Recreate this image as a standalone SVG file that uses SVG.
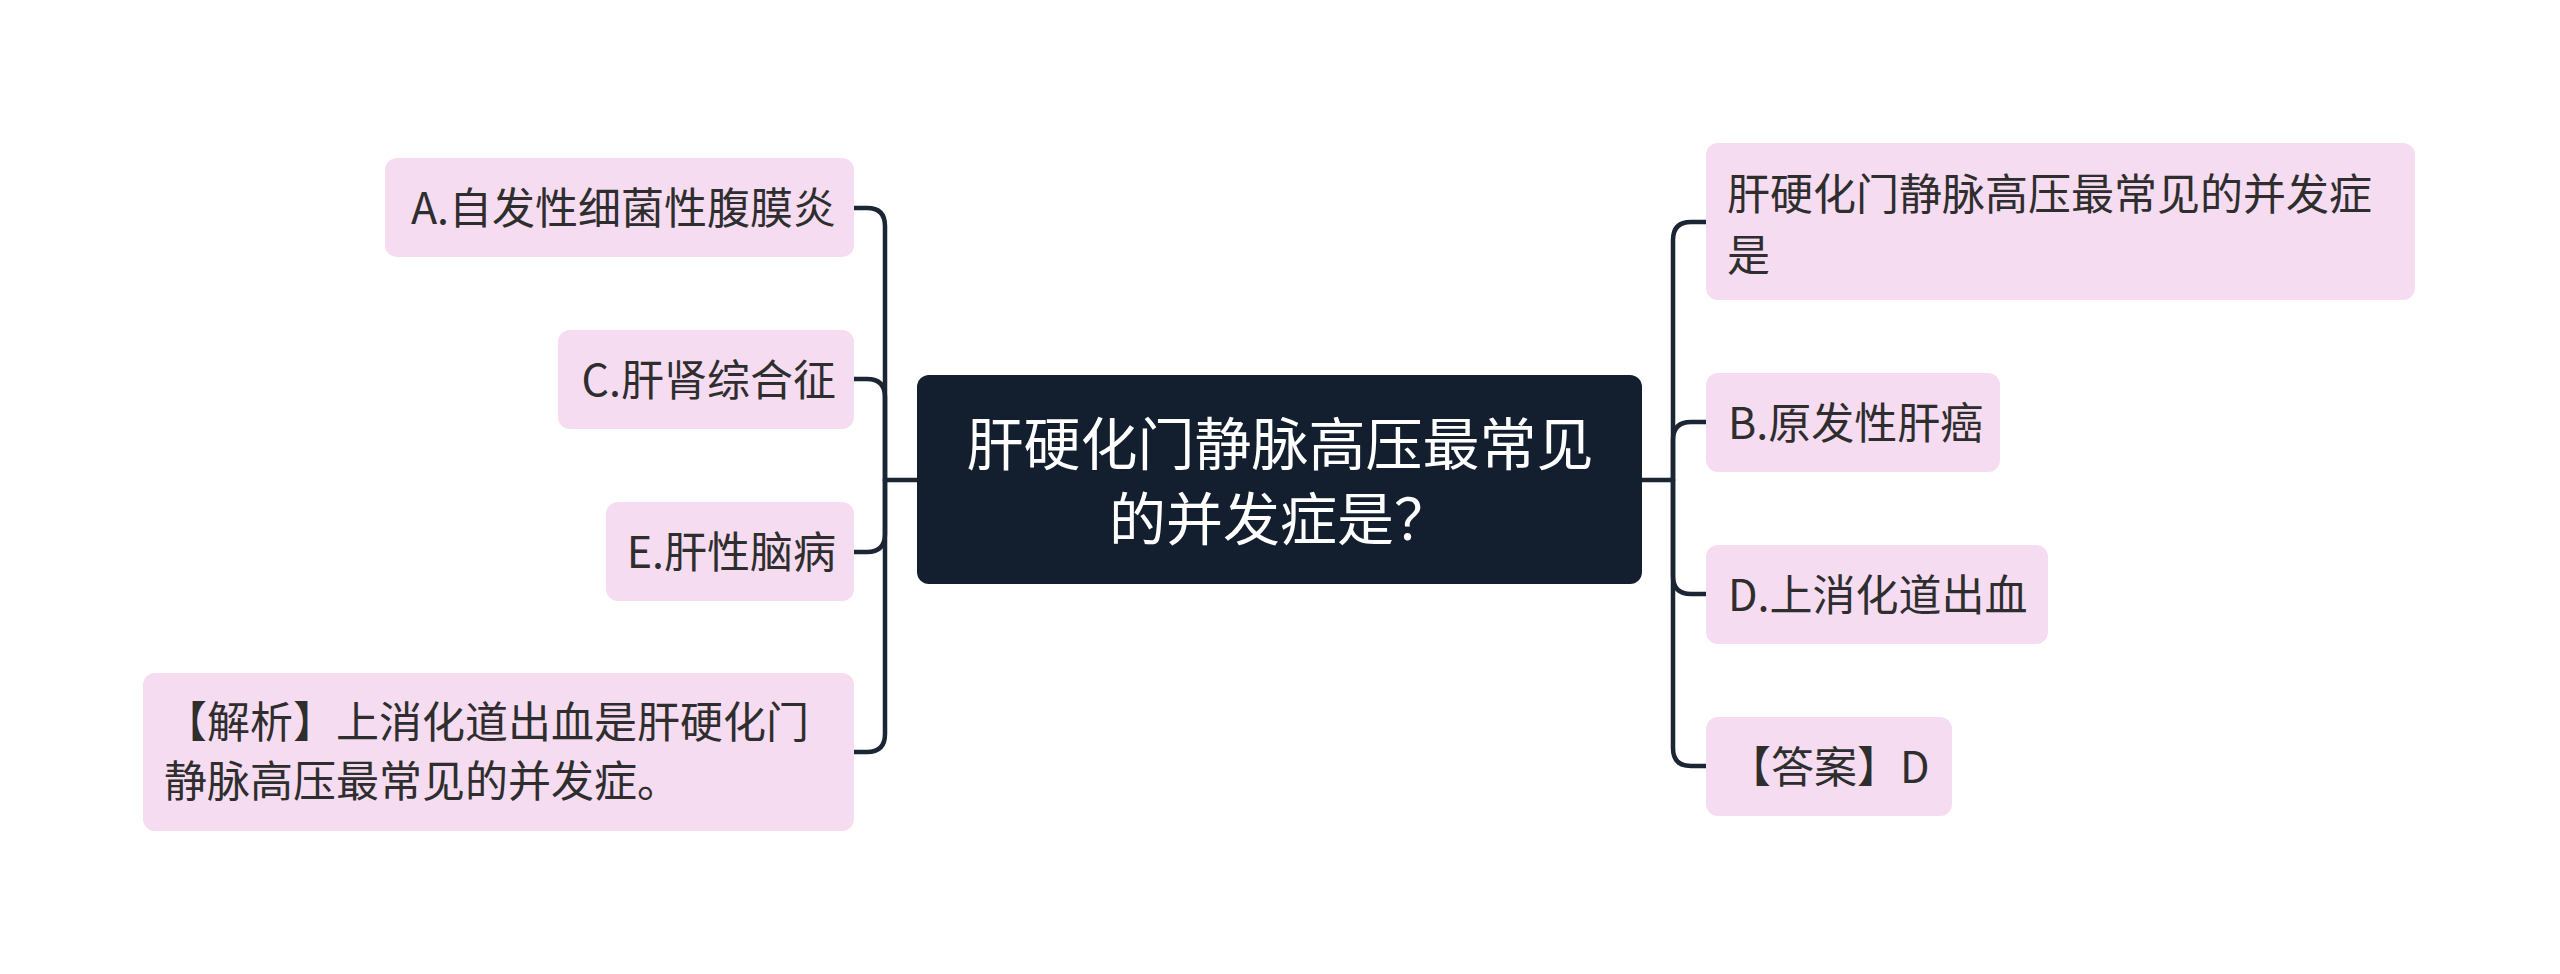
<svg xmlns="http://www.w3.org/2000/svg" width="2560" height="974" viewBox="0 0 2560 974">
<style>
.bg{fill:#ffffff}
.sub{fill:#f6dcf0}
.root{fill:#131f2e}
.t{font-family:"Noto Sans CJK SC","Noto Sans",sans-serif;font-size:43px;fill:#2e2e2e}
.rt{font-family:"Noto Sans CJK SC","Noto Sans",sans-serif;font-size:57px;fill:#ffffff;text-anchor:middle}
.end{text-anchor:end}
.ln{fill:none;stroke:#1b2533;stroke-width:4.5;stroke-linecap:round;stroke-linejoin:round}
</style>
<rect class="bg" x="0" y="0" width="2560" height="974"/>
<g id="connectors">
<path class="ln" d="M917 480 H885"/>
<path class="ln" d="M885 480 V226 Q885 208 867 208 H854"/>
<path class="ln" d="M885 480 V397 Q885 379 867 379 H854"/>
<path class="ln" d="M885 480 V534 Q885 552 867 552 H854"/>
<path class="ln" d="M885 480 V734 Q885 752 867 752 H854"/>
<path class="ln" d="M1642 480 H1673"/>
<path class="ln" d="M1673 480 V240 Q1673 222 1691 222 H1706"/>
<path class="ln" d="M1673 480 V440 Q1673 422 1691 422 H1706"/>
<path class="ln" d="M1673 480 V576 Q1673 594 1691 594 H1706"/>
<path class="ln" d="M1673 480 V748 Q1673 766 1691 766 H1706"/>
</g>
<g id="root">
<rect class="root" x="917" y="375" width="725" height="209" rx="12"/>
<text class="rt" x="1280" y="465">肝硬化门静脉高压最常见</text>
<text class="rt" x="1280" y="540">的并发症是？</text>
</g>
<g id="nodeA">
<rect class="sub" x="385" y="158" width="469" height="99" rx="12"/>
<text class="t end" x="836" y="224">A.自发性细菌性腹膜炎</text>
</g>
<g id="nodeC">
<rect class="sub" x="558" y="330" width="296" height="99" rx="12"/>
<text class="t end" x="836" y="396">C.肝肾综合征</text>
</g>
<g id="nodeE">
<rect class="sub" x="606" y="502" width="248" height="99" rx="12"/>
<text class="t end" x="836" y="568">E.肝性脑病</text>
</g>
<g id="nodeAnalysis">
<rect class="sub" x="143" y="673" width="711" height="158" rx="12"/>
<text class="t" x="164" y="738">【解析】上消化道出血是肝硬化门</text>
<text class="t" x="164" y="797">静脉高压最常见的并发症。</text>
</g>
<g id="nodeQ">
<rect class="sub" x="1706" y="143" width="709" height="157" rx="12"/>
<text class="t" x="1727" y="210">肝硬化门静脉高压最常见的并发症</text>
<text class="t" x="1727" y="271">是</text>
</g>
<g id="nodeB">
<rect class="sub" x="1706" y="373" width="294" height="99" rx="12"/>
<text class="t" x="1728" y="439">B.原发性肝癌</text>
</g>
<g id="nodeD">
<rect class="sub" x="1706" y="545" width="342" height="99" rx="12"/>
<text class="t" x="1728" y="611">D.上消化道出血</text>
</g>
<g id="nodeAnswer">
<rect class="sub" x="1706" y="717" width="246" height="99" rx="12"/>
<text class="t" x="1728" y="783">【答案】D</text>
</g>
</svg>
